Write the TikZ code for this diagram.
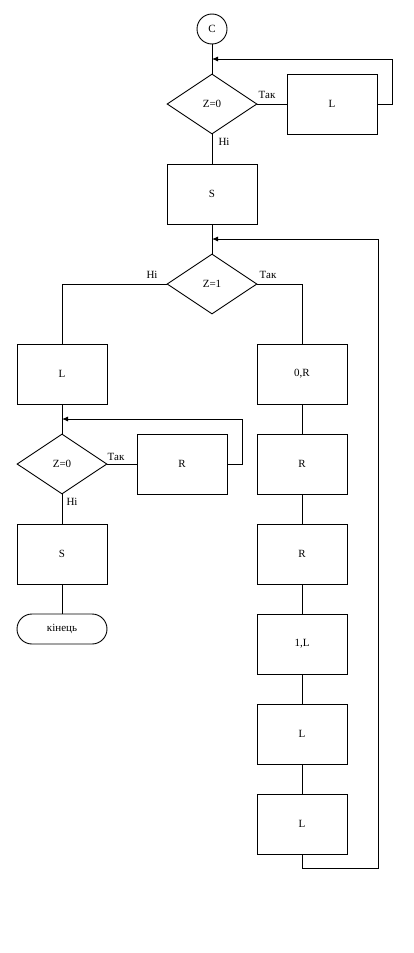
\documentclass[tikz,border=0pt]{standalone}
\usepackage{fontspec}
\setmainfont{Liberation Serif}
\usetikzlibrary{shapes.geometric,arrows.meta}
\begin{document}
\begin{tikzpicture}[x=1pt,y=-1pt,line width=0.9pt,
  every node/.style={font=\fontsize{11}{13}\selectfont},
  blk/.style={draw,minimum width=90pt,minimum height=60pt,inner sep=0pt},
  dec/.style={draw,diamond,minimum width=90pt,minimum height=60pt,inner sep=0pt,aspect=1.5},
  term/.style={draw,rounded corners=15pt,minimum width=90pt,minimum height=30pt,inner sep=0pt},
  conn/.style={draw,circle,minimum size=30pt,inner sep=0pt},
  lbl/.style={font=\fontsize{11}{13}\selectfont,inner sep=1pt},
  arr/.style={-{Latex[length=6pt,width=5pt]}}]
\useasboundingbox (0,0) rectangle (414,953);
\node[conn] (c) at (212,29) {C};
\node[dec] (d1) at (212,104) {Z=0};
\node[blk] (l1) at (332,104) {L};
\node[blk] (s1) at (212,194) {S};
\node[dec] (d2) at (212,284) {Z=1};
\node[blk] (l2) at (62,374) {L};
\node[dec] (d3) at (62,464) {Z=0};
\node[blk] (r1) at (182,464) {R};
\node[blk] (s2) at (62,554) {S};
\node[term] (end) at (62,629) {кінець};
\node[blk] (b1) at (302,374) {0,R};
\node[blk] (b2) at (302,464) {R};
\node[blk] (b3) at (302,554) {R};
\node[blk] (b4) at (302,644) {1,L};
\node[blk] (b5) at (302,734) {L};
\node[blk] (b6) at (302,824) {L};
\coordinate (j1) at (212,59);
\coordinate (j2) at (212,239);
\coordinate (j3) at (62,419);
% top
\draw (c) -- (d1);
\draw (d1) -- (l1);
\draw[arr] (l1.east) -- (392,104) -- (392,59) -- (j1);
\draw (d1) -- (s1);
\draw (s1) -- (d2);
\draw[arr] (b6.south) -- (302,868) -- (378,868) -- (378,239) -- (j2);
\draw (d2.west) -| (l2.north);
\draw (d2.east) -| (b1.north);
\draw (l2) -- (d3);
\draw (d3) -- (r1);
\draw[arr] (r1.east) -- (242,464) -- (242,419) -- (j3);
\draw (d3) -- (s2);
\draw (s2) -- (end);
\draw (b1) -- (b2);
\draw (b2) -- (b3);
\draw (b3) -- (b4);
\draw (b4) -- (b5);
\draw (b5) -- (b6);
% labels
\node[lbl] (t1) at (267,95) {Так};
\node[lbl] (n1) at (224,142) {Ні};
\node[lbl] (n2) at (152,275) {Ні};
\node[lbl] (t2) at (268,275) {Так};
\node[lbl] (t3) at (116,457) {Так};
\node[lbl] (n3) at (72,502) {Ні};
\end{tikzpicture}
\end{document}
